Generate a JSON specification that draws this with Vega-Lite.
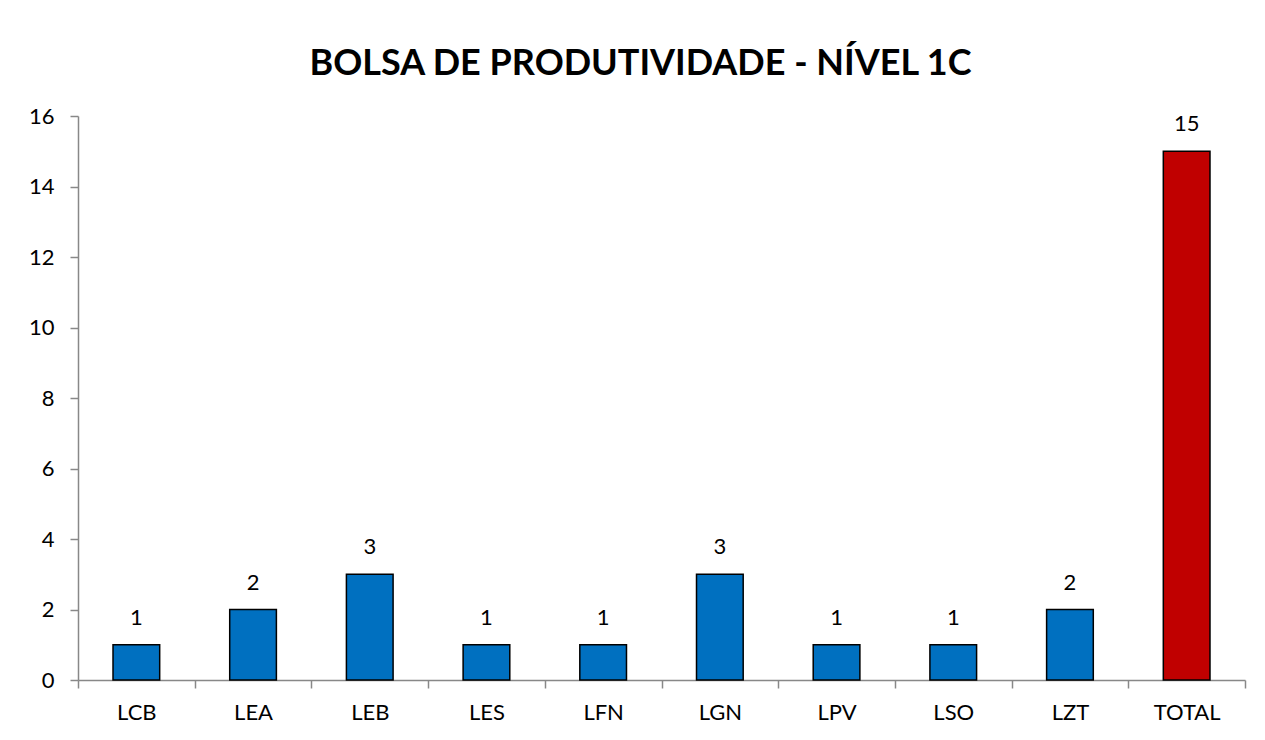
{
  "$schema": "https://vega.github.io/schema/vega-lite/v6.json",
  "autosize": {"type": "none"},
  "width": 1167,
  "height": 564,
  "padding": {"left": 78, "top": 116, "right": 20, "bottom": 60},
  "background": "white",
  "title": {
    "text": "BOLSA DE PRODUTIVIDADE - NÍVEL 1C",
    "font": "Lato",
    "fontSize": 36,
    "fontWeight": "bold",
    "color": "#000000",
    "anchor": "middle",
    "offset": 22,
    "dx": -21
  },
  "config": {
    "view": {"stroke": null},
    "font": "Lato",
    "axis": {"labelFont": "Lato", "labelFontSize": 22, "labelColor": "#000000", "domainColor": "#888888", "tickColor": "#888888", "domainWidth": 1.5, "tickWidth": 1.5, "grid": false, "title": null}
  },
  "data": {
    "values": [
      {"sigla": "LCB", "valor": 1, "tipo": "lab"},
      {"sigla": "LEA", "valor": 2, "tipo": "lab"},
      {"sigla": "LEB", "valor": 3, "tipo": "lab"},
      {"sigla": "LES", "valor": 1, "tipo": "lab"},
      {"sigla": "LFN", "valor": 1, "tipo": "lab"},
      {"sigla": "LGN", "valor": 3, "tipo": "lab"},
      {"sigla": "LPV", "valor": 1, "tipo": "lab"},
      {"sigla": "LSO", "valor": 1, "tipo": "lab"},
      {"sigla": "LZT", "valor": 2, "tipo": "lab"},
      {"sigla": "TOTAL", "valor": 15, "tipo": "total"}
    ]
  },
  "encoding": {
    "x": {
      "field": "sigla", "type": "nominal", "sort": null,
      "scale": {"paddingInner": 0, "paddingOuter": 0},
      "axis": {"labelAngle": 0, "tickBand": "extent", "tickSize": 8, "labelPadding": 14}
    },
    "y": {
      "field": "valor", "type": "quantitative",
      "scale": {"domain": [0, 16], "nice": false},
      "axis": {"values": [0, 2, 4, 6, 8, 10, 12, 14, 16], "tickSize": 8, "labelPadding": 16}
    }
  },
  "layer": [
    {
      "mark": {"type": "bar", "stroke": "#000000", "strokeWidth": 1.5, "width": {"band": 0.4}},
      "encoding": {
        "color": {"field": "tipo", "type": "nominal", "scale": {"domain": ["lab", "total"], "range": ["#0070C0", "#C00000"]}, "legend": null}
      }
    },
    {
      "mark": {"type": "text", "font": "Lato", "fontSize": 22, "color": "#000000", "baseline": "alphabetic", "dy": -20},
      "encoding": {"text": {"field": "valor", "type": "quantitative"}}
    }
  ]
}
